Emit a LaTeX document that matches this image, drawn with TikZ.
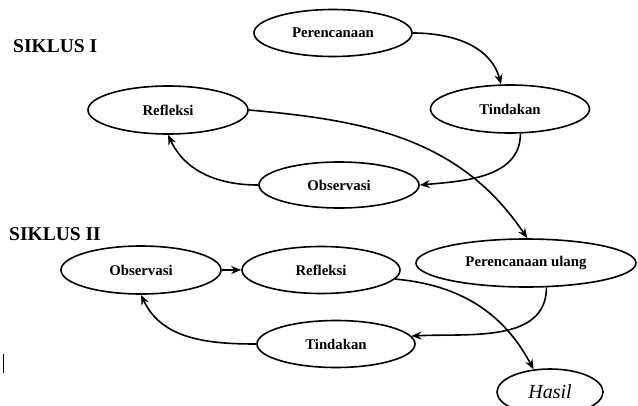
\documentclass[tikz,border=0pt]{standalone}
\usepackage{fontspec}
\setmainfont{Liberation Serif}
\usetikzlibrary{shapes.geometric,arrows.meta}
\begin{document}
\begin{tikzpicture}[x=1pt,y=-1pt,
  ell/.style={ellipse,draw,line width=1.6pt,inner sep=0pt,font=\fontsize{14.8}{16}\selectfont\bfseries},
  conn/.style={line width=1.6pt,-{Stealth[length=10pt,width=8pt]}},
  title/.style={anchor=base west,inner sep=0pt,font=\fontsize{19.5}{22}\selectfont\bfseries}]
\useasboundingbox (0,0) rectangle (638,405);
\node[title] (s1) at (13,52) {SIKLUS I};
\node[title] (s2) at (9,240) {SIKLUS II};
\node[ell,minimum width=158pt,minimum height=47pt] (per1) at (333,33) {Perencanaan};
\node[ell,minimum width=159pt,minimum height=48pt] (tin1) at (510,109) {Tindakan};
\node[ell,minimum width=160pt,minimum height=48pt] (ref1) at (168,110) {Refleksi};
\node[ell,minimum width=160pt,minimum height=46pt] (obs1) at (339,185) {Observasi};
\node[ell,minimum width=160pt,minimum height=48pt] (obs2) at (141,270) {Observasi};
\node[ell,minimum width=158pt,minimum height=47pt] (ref2) at (321,270) {Refleksi};
\node[ell,minimum width=220pt,minimum height=48pt] (pu) at (526,263) {Perencanaan ulang};
\node[ell,minimum width=158pt,minimum height=47pt] (tin2) at (336,344) {Tindakan};
\node[ell,minimum width=106pt,minimum height=46pt,font=\fontsize{20}{22}\selectfont\itshape] (hasil) at (550,392) {Hasil};
\draw[conn] (per1.east) to[out=0,in=105] (tin1.110);
\draw[conn] (tin1.-67) to[out=-90,in=5] (obs1.east);
\draw[conn] (obs1.west) to[out=180,in=-65] (ref1.south);
\draw[conn] (ref1.east) to[out=-5,in=124] (pu.87);
\draw[conn] (obs2.east) -- (ref2.west);
\draw[conn] (ref2.-7) to[out=-5,in=118] (hasil.126);
\draw[conn] (pu.-50) to[out=-90,in=3] (tin2.6);
\draw[conn] (tin2.west) to[out=180,in=-65] (obs2.south);
\draw[line width=1pt] (3,354) -- (3,373);
\end{tikzpicture}
\end{document}
